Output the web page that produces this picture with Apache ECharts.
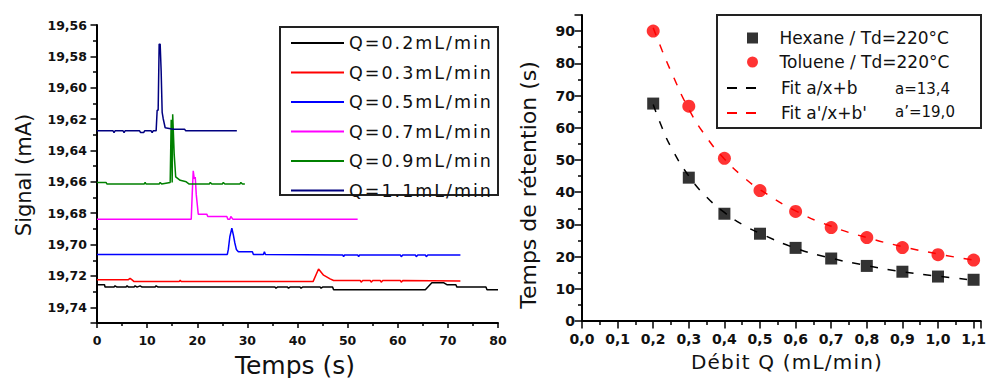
<!DOCTYPE html>
<html>
<head>
<meta charset="utf-8">
<script src="https://cdn.jsdelivr.net/npm/echarts@6/dist/echarts.min.js"></script>
<style>
html,body{margin:0;padding:0;background:#fff;}
#chart{width:989px;height:378px;}
#chart text[style*="17.5px"]{letter-spacing:2px;}
#chart text[style*="20px"]{letter-spacing:1.2px;}
</style>
</head>
<body>
<div id="chart"></div>
<script>
// ---------- Left panel: chromatograms (time s, signal mA) ----------
const seriesNames = ['Q=0.2mL/min','Q=0.3mL/min','Q=0.5mL/min','Q=0.7mL/min','Q=0.9mL/min','Q=1.1mL/min'];
const seriesColors = ['#000000','#ff0000','#0000ff','#ff00ff','#008000','#000080'];

const signalQ02 = [[0,19.7256],[1.5,19.7256],[1.6,19.7271],[3.4,19.7271],[3.6,19.7263],[4.0,19.7271],[5.8,19.7271],[6.0,19.7263],[6.3,19.7271],[7.4,19.7271],[7.6,19.7263],[8.0,19.7271],[8.6,19.7263],[9.0,19.7271],[11.6,19.7271],[11.8,19.7263],[12.2,19.7271],[35.5,19.7271],[35.7,19.7278],[36,19.7271],[38,19.7271],[38.2,19.7278],[38.5,19.7271],[40.5,19.7271],[40.7,19.7278],[41,19.7271],[44.5,19.7271],[44.7,19.7278],[45,19.7271],[47,19.7271],[47.2,19.7288],[65.5,19.7288],[66.8,19.7244],[69.2,19.7244],[69.8,19.7256],[71.6,19.7256],[71.8,19.7271],[77.6,19.7271],[77.8,19.7288],[80,19.7288]];
const signalQ03 = [[0,19.7225],[6.2,19.7225],[6.6,19.7215],[7.0,19.7225],[7.4,19.7236],[16.4,19.7236],[16.6,19.7228],[16.8,19.7236],[43.1,19.7236],[44.2,19.7156],[45.2,19.7195],[46.5,19.7219],[47.2,19.7229],[52.5,19.7229],[52.7,19.724],[53,19.7229],[54.5,19.7229],[54.7,19.724],[55,19.7229],[56.5,19.7229],[56.7,19.724],[57,19.7229],[60.5,19.7229],[60.7,19.724],[61,19.7229],[72.5,19.7233]];
const signalQ05 = [[0,19.7063],[26.0,19.7063],[26.2,19.7031],[26.5,19.6950],[26.9,19.6896],[27.2,19.6938],[27.5,19.6990],[27.8,19.7031],[28.2,19.7046],[31.0,19.7046],[31.2,19.7063],[33.2,19.7063],[33.4,19.7046],[33.6,19.7063],[49,19.7066],[49.2,19.7077],[49.4,19.7066],[52,19.7066],[52.2,19.7077],[52.4,19.7066],[60.5,19.7066],[60.7,19.7077],[61,19.7066],[63.5,19.7066],[63.7,19.7077],[64,19.7066],[65.5,19.7066],[65.7,19.7077],[66,19.7066],[72.5,19.7066]];
const signalQ07 = [[0,19.6838],[18.8,19.6838],[19.0,19.6675],[19.2,19.6530],[19.4,19.6580],[19.6,19.6570],[19.8,19.6680],[20.2,19.6806],[21.9,19.6806],[22.1,19.6821],[25.9,19.6821],[26.1,19.6838],[26.5,19.6838],[26.7,19.6821],[27.1,19.6838],[52,19.6838]];
const signalQ09 = [[0,19.6604],[1.8,19.6604],[2.0,19.6614],[9.4,19.6614],[9.6,19.6604],[9.8,19.6614],[12.4,19.6614],[12.6,19.6604],[12.9,19.6614],[14.6,19.6604],[14.8,19.6204],[15.0,19.6604],[15.1,19.6169],[15.4,19.6423],[15.7,19.6569],[16.6,19.6590],[17.8,19.6600],[18.4,19.6614],[22.4,19.6614],[22.6,19.6604],[22.9,19.6614],[25.0,19.6614],[25.2,19.6604],[25.5,19.6614],[28.5,19.6614],[28.7,19.6604],[29.0,19.6614],[29.5,19.6614]];
const signalQ11 = [[0,19.6275],[3.2,19.6275],[3.4,19.6286],[3.6,19.6275],[5.2,19.6275],[5.4,19.6286],[5.6,19.6275],[8.5,19.6275],[8.7,19.6286],[9.3,19.6286],[9.5,19.6275],[10.8,19.6275],[11.0,19.6286],[11.2,19.6275],[11.8,19.6275],[12.0,19.6144],[12.2,19.6144],[12.4,19.5722],[12.6,19.5722],[12.8,19.5894],[12.9,19.5894],[13.0,19.6157],[13.2,19.6196],[13.6,19.6255],[15.2,19.6265],[17.5,19.6265],[17.7,19.6275],[27.9,19.6275]];
const signals = [signalQ02, signalQ03, signalQ05, signalQ07, signalQ09, signalQ11];

// ---------- Right panel: retention time vs flow ----------
const flowRates = [0.2,0.3,0.4,0.5,0.6,0.7,0.8,0.9,1.0,1.1];
const hexaneTimes = [67.5,44.5,33.3,27.1,22.7,19.4,17.1,15.3,13.8,12.8];
const tolueneTimes = [90.0,66.7,50.5,40.5,34.0,29.0,25.9,22.8,20.6,18.9];
const fitX = [0.2,0.225,0.25,0.3,0.35,0.4,0.45,0.5,0.6,0.7,0.8,0.9,1.0,1.1];
const hexaneFit = [67.2,60.0,54.0,45.0,38.5,33.7,30.0,27.2,22.6,19.5,17.2,15.3,13.9,12.7];
const tolueneFit = [91.0,84.0,77.5,65.8,57.0,50.3,45.0,40.8,34.2,29.4,25.9,23.1,20.8,18.9];
const rightNames = ['Hexane / Td=220°C','Toluene / Td=220°C','Fit a/x+b',"Fit a'/x+b'"];
const fitParams = ['a=13,4','a\u2019=19,0'];

const FF = 'DejaVu Sans';
const TXT = '#111';
const SQUARE_ICON = 'path://M0,0L10,0L10,10L0,10Z';
const CIRCLE_ICON = 'path://M5,0A5,5 0 1,1 5,10A5,5 0 1,1 5,0Z';
const HIDDEN_SYMBOL = {color:'rgba(0,0,0,0)', borderColor:'rgba(0,0,0,0)', borderWidth:0};

function tickBase(len, minorLen){
  return {
    axisLine:{onZero:false, lineStyle:{color:'#000', width:2}},
    axisTick:{show:true, inside:false, length:len, lineStyle:{color:'#000', width:1.5}},
    minorTick:{show:true, splitNumber:2, length:minorLen, lineStyle:{color:'#000', width:1.5}},
    splitLine:{show:false}
  };
}

const chart = echarts.init(document.getElementById('chart'), null, {renderer:'svg'});

const series = [];
signals.forEach((d,i)=>{
  series.push({
    type:'line', name:seriesNames[i], xAxisIndex:0, yAxisIndex:0,
    data:d, symbol:'none', showSymbol:false,
    lineStyle:{color:seriesColors[i], width:1.5}, itemStyle:{color:seriesColors[i]},
    animation:false
  });
});
series.push({
  type:'line', name:rightNames[2], xAxisIndex:1, yAxisIndex:1,
  data:fitX.map((x,i)=>[x, hexaneFit[i]]), smooth:true, symbol:'none', showSymbol:false,
  lineStyle:{color:'#000', width:1.5, type:[8,10]}, itemStyle:{color:'#000'}, animation:false, z:2
});
series.push({
  type:'line', name:rightNames[3], xAxisIndex:1, yAxisIndex:1,
  data:fitX.map((x,i)=>[x, tolueneFit[i]]), smooth:true, symbol:'none', showSymbol:false,
  lineStyle:{color:'#ff0000', width:1.5, type:[8,10]}, itemStyle:{color:'#ff0000'}, animation:false, z:2
});
series.push({
  type:'scatter', name:rightNames[0], xAxisIndex:1, yAxisIndex:1,
  data:flowRates.map((x,i)=>[x, hexaneTimes[i]]), symbol:'rect', symbolSize:12,
  itemStyle:{color:'#000'}, animation:false, z:3
});
series.push({
  type:'scatter', name:rightNames[1], xAxisIndex:1, yAxisIndex:1,
  data:flowRates.map((x,i)=>[x, tolueneTimes[i]]), symbol:'circle', symbolSize:13,
  itemStyle:{color:'#ff0000'}, animation:false, z:3
});

const option = {
  backgroundColor:'#fff',
  animation:false,
  grid:[
    {left:97, right:491, top:25, bottom:55, containLabel:false},
    {left:582, right:4, top:15, bottom:57, containLabel:false}
  ],
  xAxis:[
    Object.assign(tickBase(5,3), {
      gridIndex:0, type:'value', min:0, max:80, interval:10,
      axisLabel:{margin:11, color:TXT, fontFamily:FF, fontSize:12.5, fontWeight:'bold',
        formatter:v=>String(v)}
    }),
    Object.assign(tickBase(7.5,4), {
      gridIndex:1, type:'value', min:0, max:1.12, interval:0.1,
      axisLabel:{margin:11, color:TXT, fontFamily:FF, fontSize:14, fontWeight:'bold',
        formatter:v=> Math.abs(Math.round(v*10)-v*10)<1e-6 ? v.toFixed(1).replace('.',',') : ''}
    })
  ],
  yAxis:[
    Object.assign(tickBase(6.5,4), {
      gridIndex:0, type:'value', inverse:true, min:19.56, max:19.75, interval:0.02,
      axisLabel:{margin:10, color:TXT, fontFamily:FF, fontSize:12.5, fontWeight:'bold',
        formatter:v=> Math.abs(Math.round(v*50)-v*50)<1e-6 ? v.toFixed(2).replace('.',',') : ''}
    }),
    Object.assign(tickBase(7.5,4), {
      gridIndex:1, type:'value', min:0, max:95, interval:10,
      axisLabel:{margin:7, color:TXT, fontFamily:FF, fontSize:14, fontWeight:'bold',
        formatter:v=> Math.abs(Math.round(v/10)-v/10)<1e-6 ? String(v) : ''}
    })
  ],
  legend:[
    {
      data:seriesNames, orient:'vertical', left:290, top:34, padding:0,
      itemWidth:53, itemHeight:14, itemGap:11.5, selectedMode:false,
      itemStyle:HIDDEN_SYMBOL,
      textStyle:{fontFamily:FF, fontSize:17.5, color:TXT}
    },
    {
      data:[{name:rightNames[0], icon:SQUARE_ICON},{name:rightNames[1], icon:CIRCLE_ICON}],
      orient:'vertical', left:747, top:29.5, padding:0,
      itemWidth:44, itemHeight:11, itemGap:7, selectedMode:false, symbolKeepAspect:true,
      textStyle:{fontFamily:FF, fontSize:17, color:TXT}
    },
    {
      data:[rightNames[2], rightNames[3]],
      orient:'vertical', left:726, top:79.5, padding:0,
      itemWidth:30, itemHeight:12, itemGap:8, selectedMode:false,
      itemStyle:HIDDEN_SYMBOL,
      lineStyle:{type:[10,9]},
      textStyle:{fontFamily:FF, fontSize:17, color:TXT, padding:[0,0,0,19]}
    }
  ],
  graphic:[
    {type:'rect', z:-1, shape:{x:280, y:27, width:218, height:168}, style:{fill:'#fff', stroke:'#222', lineWidth:2}},
    {type:'rect', z:-1, shape:{x:717, y:15, width:264, height:113}, style:{fill:'#fff', stroke:'#222', lineWidth:2}},
    {type:'text', x:895, y:89, style:{text:fitParams[0], font:'15px "DejaVu Sans"', fill:TXT, textAlign:'left', textVerticalAlign:'middle'}},
    {type:'text', x:895, y:112, style:{text:fitParams[1], font:'15px "DejaVu Sans"', fill:TXT, textAlign:'left', textVerticalAlign:'middle'}},
    {type:'text', x:24, y:175, rotation:Math.PI/2, style:{text:'Signal (mA)', font:'21px "DejaVu Sans"', fill:TXT, textAlign:'center', textVerticalAlign:'middle'}},
    {type:'text', x:295, y:365, style:{text:'Temps (s)', font:'25px "DejaVu Sans"', fill:TXT, textAlign:'center', textVerticalAlign:'middle'}},
    {type:'text', x:528, y:185, rotation:Math.PI/2, style:{text:'Temps de rétention (s)', font:'22px "DejaVu Sans"', fill:TXT, textAlign:'center', textVerticalAlign:'middle'}},
    {type:'text', x:787, y:362, style:{text:'Débit Q (mL/min)', font:'20px "DejaVu Sans"', fill:TXT, textAlign:'center', textVerticalAlign:'middle'}}
  ],
  series:series
};
chart.setOption(option);
</script>
</body>
</html>
